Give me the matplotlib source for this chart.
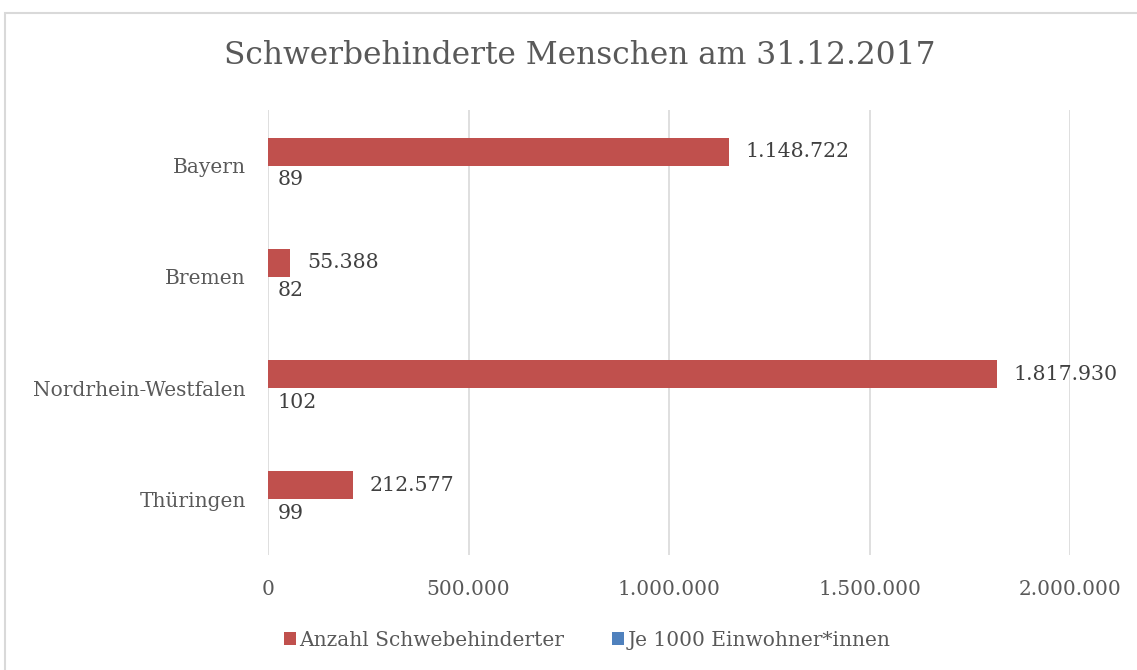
import matplotlib
matplotlib.use("Agg")
import matplotlib.pyplot as plt
import numpy as np
from matplotlib.patches import Rectangle

# Data
laender = ["Bayern", "Bremen", "Nordrhein-Westfalen", "Thüringen"]
anzahl = [1148722, 55388, 1817930, 212577]
je_1000 = [89, 82, 102, 99]
xticks = [0, 500000, 1000000, 1500000, 2000000]

red = "#C0504D"
blue = "#4F81BD"
txt = "#595959"
grid = "#D9D9D9"

plt.rcParams["font.family"] = ["DejaVu Serif"]


def de_fmt(v):
    return f"{v:,}".replace(",", ".")


fig = plt.figure(figsize=(11.37, 6.7), dpi=100)
# outer chart frame
fig.patches.append(Rectangle((5 / 1137, -0.1), 1.2, (670 - 13) / 670 + 0.1,
                             transform=fig.transFigure, fill=False,
                             edgecolor="#D9D9D9", linewidth=1.5))

ax = fig.add_axes([268 / 1137, 1 - 555 / 670, (1070 - 268) / 1137, (555 - 110) / 670])

y = np.arange(len(laender))
h = 0.252
ax.barh(y - h / 2, anzahl, height=h, color=red, label="Anzahl Schwebehinderter")
ax.barh(y + h / 2, je_1000, height=h, color=blue, label="Je 1000 Einwohner*innen")

for yi, v in zip(y, anzahl):
    ax.annotate(de_fmt(v), (v, yi - h / 2), xytext=(12, 0), textcoords="offset points",
                va="center", ha="left", fontsize=14.8, color="#404040")
for yi, v in zip(y, je_1000):
    ax.annotate(de_fmt(v), (v, yi + h / 2), xytext=(7, 0), textcoords="offset points",
                va="center", ha="left", fontsize=14.8, color="#404040")

ax.set_xlim(0, 2000000)
ax.set_ylim(3.5, -0.5)
ax.set_xticks(xticks)
ax.set_xticklabels([de_fmt(t) for t in xticks])
ax.set_yticks(y)
ax.set_yticklabels(laender)
ax.tick_params(axis="both", length=0, labelsize=14.5, colors=txt)
ax.tick_params(axis="x", pad=18)
ax.tick_params(axis="y", pad=16)
ax.xaxis.grid(True, color=grid, linewidth=1.2)
ax.set_axisbelow(True)
for s in ax.spines.values():
    s.set_visible(False)

fig.text(580 / 1137, 1 - 55 / 670, "Schwerbehinderte Menschen am 31.12.2017",
         ha="center", va="center", fontsize=22.5, color=txt)

fig.legend(loc="center", bbox_to_anchor=(587 / 1137, 1 - 640 / 670), ncol=2,
           frameon=False, fontsize=14.5, handlelength=0.6, handleheight=0.6,
           handletextpad=0.15, columnspacing=2.4, labelcolor=txt)

fig.savefig("out.png", dpi=100)
